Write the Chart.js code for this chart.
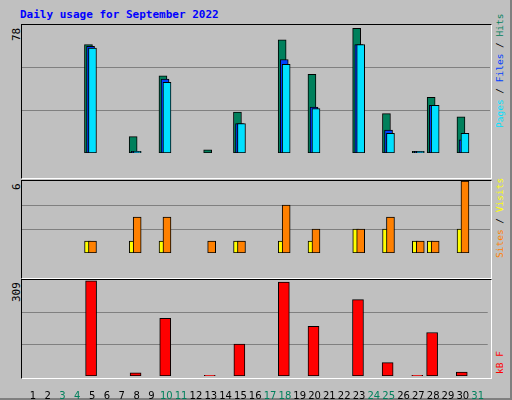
<!DOCTYPE html>
<html>
<head>
<meta charset="utf-8">
<script src="https://cdn.jsdelivr.net/npm/chart.js@4/dist/chart.umd.min.js"></script>
<style>
  body { margin: 0; background: #fff; }
  #frame { position: absolute; left: 0; top: 0; width: 510px; height: 398px; background: #c0c0c0;
           border-right: 2px solid #808080; border-bottom: 2px solid #808080; font-family: "DejaVu Sans Mono", monospace; }
  #title { position: absolute; left: 20px; top: 8px; color: #0000ff; font-weight: bold; font-size: 11px; }
  .panel { position: absolute; left: 21px; width: 469px; border: 1px solid #000; border-right-color: #fff; border-bottom-color: #fff; }
  .rot { position: absolute; transform-origin: 0 0; transform: rotate(-90deg); white-space: nowrap; font-size: 11px; }
  .side { font-size: 9.5px; }
  canvas { position: absolute; }
</style>
</head>
<body>
<div id="frame">
  <div id="title">Daily usage for September 2022</div>
  <div class="panel" style="top:24px;height:153px"></div>
  <div class="panel" style="top:180px;height:97px"></div>
  <div class="panel" style="top:279px;height:98px"></div>
  <div class="rot" style="left:10px;top:41px">78</div>
  <div class="rot" style="left:10px;top:190px">6</div>
  <div class="rot" style="left:10px;top:302px">309</div>
  <div class="rot side" style="left:494px;top:128px"><span style="color:#00e0ff">Pages</span> / <span style="color:#0040ff">Files</span> / <span style="color:#00805c">Hits</span></div>
  <div class="rot side" style="left:494px;top:258px"><span style="color:#ff8000">Sites</span> / <span style="color:#ffff00">Visits</span></div>
  <div class="rot side" style="left:494px;top:374px;color:#ff0000">kB F</div>
  <canvas id="c1" style="left:22px;top:25px"></canvas>
  <canvas id="c2" style="left:22px;top:181px"></canvas>
  <canvas id="c3" style="left:22px;top:280px"></canvas>
</div>
<script>
// September 2022
const days = Array.from({length: 30}, (_, i) => i + 1).concat([31]);
const weekendDays = [3, 4, 10, 11, 17, 18, 24, 25, 31];

const hits   = [0,0,0,0,66,0,0,10,0,47,0,0,2,0,25,0,0,69,0,48,0,0,76,0,24,0,1,34,0,22,0];
const files  = [0,0,0,0,65,0,0,1,0,45,0,0,0,0,18,0,0,57,0,28,0,0,66,0,14,0,1,29,0,8,0];
const pages  = [0,0,0,0,64,0,0,1,0,43,0,0,0,0,18,0,0,54,0,27,0,0,66,0,12,0,1,29,0,12,0];
const sites  = [0,0,0,0,1,0,0,1,0,1,0,0,0,0,1,0,0,1,0,1,0,0,2,0,2,0,1,1,0,2,0];
const visits = [0,0,0,0,1,0,0,3,0,3,0,0,1,0,1,0,0,4,0,2,0,0,2,0,3,0,1,1,0,6,0];
const kbytes = [0,0,0,0,306,0,0,10,0,186,0,0,2,0,103,0,0,302,0,160,0,0,246,0,43,0,2,140,0,13,0];

const maxHits = 78, maxVisits = 6, maxKB = 309;
const X_MIN = 0.27, X_MAX = 31.68;

function series(values, shift) {
    return days.map((d, i) => ({ x: d + shift, y: values[i] }))
        .filter(p => p.y > 0);
}

function bar(label, values, shift, color, thick, order) {
    return {
        label: label,
        data: series(values, shift),
        backgroundColor: color,
        borderColor: '#000',
        borderWidth: 1,
        borderSkipped: false,
        barThickness: thick,
        grouped: false,
        order: order
    };
}

function makeChart(id, w, h, datasets, max, showDays) {
    const cv = document.getElementById(id);
    cv.width = w; cv.height = h;
    cv.style.width = w + 'px'; cv.style.height = h + 'px';
    return new Chart(cv, {
        type: 'bar',
        data: { datasets: datasets },
        options: {
            responsive: false,
            animation: false,
            devicePixelRatio: 1,
            layout: { padding: 0 },
            plugins: { legend: { display: false }, tooltip: { enabled: false } },
            scales: {
                x: {
                    type: 'linear', min: X_MIN, max: X_MAX, offset: false,
                    display: showDays,
                    grid: { display: false },
                    border: { display: false },
                    afterBuildTicks: axis => { axis.ticks = days.map(d => ({ value: d })); },
                    afterFit: axis => { axis.height = 24; },
                    ticks: {
                        autoSkip: false, maxRotation: 0, padding: 6,
                        font: { family: 'DejaVu Sans', size: 10 },
                        color: ctx => weekendDays.includes(ctx.tick.value) ? '#00805c' : '#000',
                        callback: v => v
                    }
                },
                y: {
                    min: 0, max: max,
                    afterBuildTicks: axis => { axis.ticks = [1, 2].map(k => ({ value: max * k / 3 })); },
                    afterFit: axis => { axis.width = 0; },
                    ticks: { display: false },
                    grid: { color: '#808080', drawTicks: false, lineWidth: 1 },
                    border: { display: false }
                }
            }
        }
    });
}

makeChart('c1', 468, 152, [
    bar('Hits', hits, -0.27, '#00805c', 8, 3),
    bar('Files', files, -0.13, '#0040ff', 8, 2),
    bar('Pages', pages, 0.0, '#00e0ff', 8, 1)
], maxHits, false);

makeChart('c2', 468, 96, [
    bar('Sites', sites, -0.33, '#ffff00', 6, 2),
    bar('Visits', visits, 0.0, '#ff8000', 8, 1)
], maxVisits, false);

makeChart('c3', 468, 120, [
    bar('KBytes', kbytes, -0.07, '#ff0000', 11, 1)
], maxKB, true);
</script>
</body>
</html>
